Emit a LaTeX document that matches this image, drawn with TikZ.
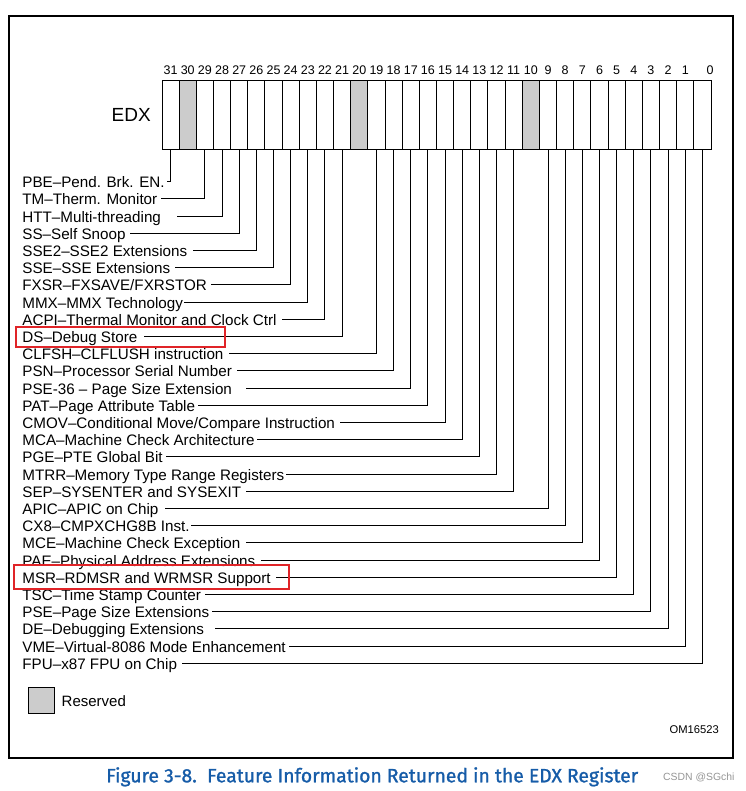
\documentclass[tikz,border=0pt]{standalone}
\usepackage{graphicx}
\usepackage{fontspec}
\setmainfont{Liberation Sans}
\newfontfamily\capfont{Fira Sans}[FakeBold=1.2]
\definecolor{resgray}{RGB}{204,204,204}
\definecolor{hlred}{RGB}{224,36,40}
\definecolor{capblue}{RGB}{22,92,168}
\definecolor{wmgray}{RGB}{150,150,150}
\begin{document}
\begin{tikzpicture}[x=1pt,y=-1pt,
  cell/.style={draw, line width=1pt, minimum width=17.156pt, minimum height=69pt,
    anchor=north west, inner sep=0pt, outer sep=0pt},
  resv/.style={fill=resgray},
  num/.style={inner sep=0pt, font=\fontsize{12.5}{12.5}\selectfont},
  lbl/.style={anchor=west, inner sep=0pt, text height=12pt, text depth=0pt,
    font=\fontsize{15.2}{15.2}\selectfont},
  conn/.style={line width=1pt},
  hl/.style={draw=hlred, line width=2pt}]
\useasboundingbox (0,0) rectangle (745,791);
\fill[white] (0,0) rectangle (745,791);
% outer frame
\draw[line width=1.4pt] (9,16) rectangle (733,758);
% register cells
\foreach \b in {0,...,31} {
  \pgfmathsetmacro\xl{162+(31-\b)*17.156}
  \pgfmathsetmacro\xc{\xl+8.578}
  \ifnum\b=30 \def\st{resv}\else\ifnum\b=20 \def\st{resv}\else\ifnum\b=10 \def\st{resv}\else\def\st{}\fi\fi\fi
  \node[cell,\st] (c\b) at (\xl,81) {};
  \ifnum\b=0
    \node[num] (n\b) at (710,70) {\b};
  \else
    \node[num] (n\b) at (\xc,70) {\b};
  \fi
}
\node[anchor=east, inner sep=0pt, text height=13.6pt, text depth=0pt,
  font=\fontsize{19}{19}\selectfont] (edx) at (151,115) {EDX};
% labels and connectors
\foreach \b/\t/\g [count=\i from 0] in {
  31/{PBE–Pend. Brk. EN.}/2,
  29/{TM–Therm. Monitor}/4,
  28/{HTT–Multi-threading}/16,
  27/{SS–Self Snoop}/4,
  26/{SSE2–SSE2 Extensions}/6,
  25/{SSE–SSE Extensions}/5,
  24/{FXSR–FXSAVE/FXRSTOR}/4,
  23/{MMX–MMX Technology}/1,
  22/{ACPI–Thermal Monitor and Clock Ctrl}/5,
  21/{DS–Debug Store}/6,
  19/{CLFSH–CLFLUSH instruction}/5,
  18/{PSN–Processor Serial Number}/5,
  17/{PSE-36 – Page Size Extension}/14,
  16/{PAT–Page Attribute Table}/3,
  15/{CMOV–Conditional Move/Compare Instruction}/5,
  14/{MCA–Machine Check Architecture}/2,
  13/{PGE–PTE Global Bit}/3,
  12/{MTRR–Memory Type Range Registers}/2,
  11/{SEP–SYSENTER and SYSEXIT}/5,
  9/{APIC–APIC on Chip}/6,
  8/{CX8–CMPXCHG8B Inst.}/1,
  7/{MCE–Machine Check Exception}/5,
  6/{PAE–Physical Address Extensions}/5,
  5/{MSR–RDMSR and WRMSR Support}/5,
  4/{TSC–Time Stamp Counter}/4,
  3/{PSE–Page Size Extensions}/3,
  2/{DE–Debugging Extensions}/11,
  1/{VME–Virtual-8086 Mode Enhancement}/3,
  0/{FPU–x87 FPU on Chip}/5} {
  \pgfmathsetmacro\yy{181.7+\i*17.2}
  \node[lbl] (l\b) at (22.2,\yy) {\t};
  \draw[conn] (c\b.south) |- ([xshift=\g pt]l\b.east);
}
% highlight boxes
\draw[hl] (15.7,327.3) rectangle (225.3,346.7);
\draw[hl] (14.3,565) rectangle (289.3,589.3);
% legend
\node[draw, line width=1pt, fill=resgray, minimum width=26pt, minimum height=26pt,
  inner sep=0pt, anchor=north west] (legbox) at (28,687) {};
\node[anchor=west, inner sep=0pt, text height=11pt, text depth=0pt,
  font=\fontsize{15}{15}\selectfont] (legtxt) at (61.5,700.5) {Reserved};
\node[anchor=east, inner sep=0pt, text height=8pt, text depth=0pt,
  font=\fontsize{11.2}{11.2}\selectfont] (om) at (719,729) {OM16523};
% caption
\node[anchor=base west, inner sep=0pt, text=capblue] (cap) at (106,782.3)
  {\resizebox{532pt}{\height}{\capfont\fontsize{19.3}{20}\selectfont Figure 3-8.\ \ Feature Information Returned in the EDX Register}};
\node[anchor=west, inner sep=0pt, text=wmgray, text height=7.5pt, text depth=0pt,
  font=\fontsize{10.4}{10.4}\selectfont] (csdn) at (663,777) {CSDN @SGchi};
\end{tikzpicture}
\end{document}
